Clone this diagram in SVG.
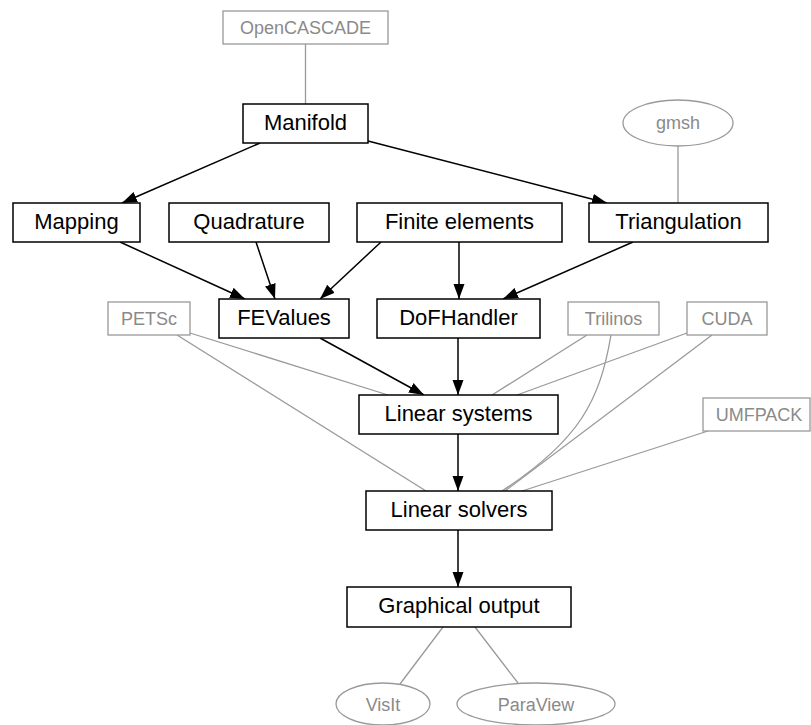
<svg xmlns="http://www.w3.org/2000/svg" width="811" height="725" viewBox="0 0 811 725">
<style>
.n rect{fill:#fff;stroke:#000;stroke-width:1.5}
.n text{font-family:"Liberation Sans",Arial,sans-serif;font-size:22px;fill:#000;text-anchor:middle}
.g rect,.g ellipse{fill:#fff;stroke:#999;stroke-width:1.3}
.g text{font-family:"Liberation Sans",Arial,sans-serif;font-size:18px;fill:#8a8a8a;text-anchor:middle}
.e{fill:none;stroke:#000;stroke-width:1.5;marker-end:url(#arr)}
.u{fill:none;stroke:#999;stroke-width:1.3}
</style>
<defs>
<marker id="arr" markerUnits="userSpaceOnUse" markerWidth="16" markerHeight="12" refX="15" refY="5.5" orient="auto" viewBox="0 0 16 11">
<path d="M0,0 L15,5.5 L0,11 z" fill="#000"/>
</marker>
</defs>
<g id="connectors">
<line class="u" x1="305.5" y1="44" x2="305.5" y2="104"/>
<line class="u" x1="678" y1="146" x2="678" y2="203"/>
<line class="e" x1="260" y1="143" x2="122" y2="203"/>
<line class="e" x1="368" y1="141" x2="607" y2="203"/>
<line class="e" x1="120" y1="242" x2="245" y2="299"/>
<line class="e" x1="256" y1="242" x2="275" y2="299"/>
<line class="e" x1="381" y1="242" x2="320" y2="299"/>
<line class="e" x1="459" y1="242" x2="459" y2="299"/>
<line class="e" x1="633" y1="242" x2="503" y2="299"/>
<line class="e" x1="320" y1="338" x2="424" y2="395"/>
<line class="e" x1="458" y1="338" x2="458" y2="395"/>
<line class="e" x1="458" y1="434" x2="458" y2="491"/>
<line class="e" x1="458" y1="530" x2="458" y2="587"/>
<line class="u" x1="190" y1="333" x2="388" y2="395"/>
<line class="u" x1="177" y1="335" x2="426" y2="491"/>
<line class="u" x1="587" y1="335" x2="492" y2="395"/>
<path class="u" d="M611,335 C600,400 580,440 502,491"/>
<line class="u" x1="687" y1="333" x2="517" y2="395"/>
<line class="u" x1="712" y1="335" x2="505" y2="491"/>
<line class="u" x1="708" y1="431" x2="522" y2="491"/>
<line class="u" x1="443" y1="627" x2="400" y2="684"/>
<line class="u" x1="475" y1="627" x2="518" y2="683"/>
</g>
<g id="OpenCASCADE" class="g"><rect x="223" y="11" width="165" height="33"/><text x="305.5" y="33.5">OpenCASCADE</text></g>
<g id="Manifold" class="n"><rect x="243" y="104" width="125" height="39"/><text x="305.5" y="130">Manifold</text></g>
<g id="gmsh" class="g"><ellipse cx="678" cy="123" rx="55" ry="23"/><text x="678" y="129">gmsh</text></g>
<g id="Mapping" class="n"><rect x="13" y="203" width="127" height="39"/><text x="76.5" y="229">Mapping</text></g>
<g id="Quadrature" class="n"><rect x="169" y="203" width="160" height="39"/><text x="249" y="229">Quadrature</text></g>
<g id="FiniteElements" class="n"><rect x="357" y="203" width="205" height="39"/><text x="459.5" y="229">Finite elements</text></g>
<g id="Triangulation" class="n"><rect x="589" y="203" width="179" height="39"/><text x="678.5" y="229">Triangulation</text></g>
<g id="PETSc" class="g"><rect x="108" y="302" width="82" height="33"/><text x="149" y="324.5">PETSc</text></g>
<g id="FEValues" class="n"><rect x="219" y="299" width="130" height="39"/><text x="284" y="325">FEValues</text></g>
<g id="DoFHandler" class="n"><rect x="377" y="299" width="163" height="39"/><text x="458.5" y="325">DoFHandler</text></g>
<g id="Trilinos" class="g"><rect x="568" y="302" width="91" height="33"/><text x="613.5" y="324.5">Trilinos</text></g>
<g id="CUDA" class="g"><rect x="687" y="302" width="80" height="33"/><text x="727" y="324.5">CUDA</text></g>
<g id="UMFPACK" class="g"><rect x="703" y="398" width="107" height="33"/><text x="759" y="420.5">UMFPACK</text></g>
<g id="LinearSystems" class="n"><rect x="359" y="395" width="199" height="39"/><text x="458.5" y="421">Linear systems</text></g>
<g id="LinearSolvers" class="n"><rect x="366" y="491" width="186" height="39"/><text x="459" y="517">Linear solvers</text></g>
<g id="GraphicalOutput" class="n"><rect x="347" y="587" width="224" height="40"/><text x="459" y="613">Graphical output</text></g>
<g id="VisIt" class="g"><ellipse cx="383" cy="704" rx="47" ry="21"/><text x="383" y="710.5">VisIt</text></g>
<g id="ParaView" class="g"><ellipse cx="536" cy="704" rx="79" ry="21"/><text x="536" y="710.5">ParaView</text></g>
</svg>
